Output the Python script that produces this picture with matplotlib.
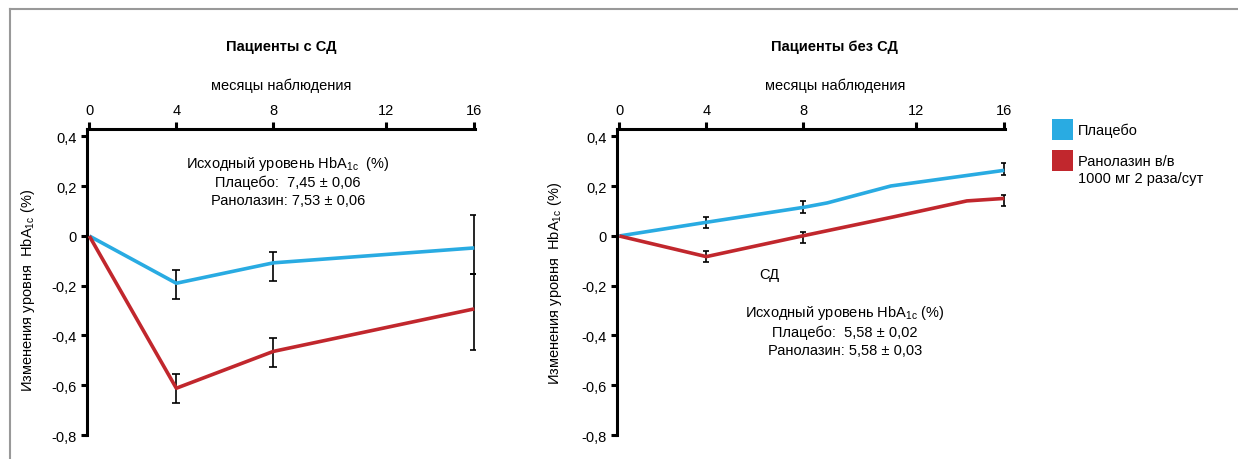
import numpy as np
import matplotlib
matplotlib.use('Agg')
import matplotlib.pyplot as plt
from matplotlib.patches import Rectangle
from matplotlib.lines import Line2D

plt.rcParams['font.family'] = ['Liberation Sans', 'DejaVu Sans']
plt.rcParams['mathtext.fontset'] = 'custom'
plt.rcParams['mathtext.rm'] = 'Liberation Sans'
plt.rcParams['mathtext.it'] = 'Liberation Sans:italic'
plt.rcParams['mathtext.bf'] = 'Liberation Sans:bold'

# ---- data ----
month_ticks = [0, 4, 8, 12, 16]
y_ticks = [0.4, 0.2, 0, -0.2, -0.4, -0.6, -0.8]
y_tick_labels = ['0,4', '0,2', '0', '-0,2', '-0,4', '-0,6', '-0,8']
series_names = ['Плацебо', 'Ранолазин в/в\n1000 мг 2 раза/сут']

# patients with diabetes
dm_months = [0, 4, 8, 16]
dm_placebo = [0, -0.19, -0.108, -0.048]
dm_ranolazine = [0, -0.612, -0.464, -0.293]
dm_err_months = [4, 8, 16]
dm_placebo_lo = [-0.252, -0.18, -0.152]
dm_placebo_hi = [-0.136, -0.064, 0.085]
dm_ranolazine_lo = [-0.672, -0.528, -0.46]
dm_ranolazine_hi = [-0.556, -0.412, -0.152]

# patients without diabetes
nodm_placebo_months = [0, 4, 8, 8.85, 11.1, 16]
nodm_placebo = [0, 0.055, 0.115, 0.133, 0.201, 0.264]
nodm_ranolazine_months = [0, 4, 8, 11.2, 14.3, 16]
nodm_ranolazine = [0, -0.083, 0.001, 0.077, 0.141, 0.151]
nodm_err_months = [4, 8, 16]
nodm_placebo_lo = [0.032, 0.092, 0.244]
nodm_placebo_hi = [0.076, 0.14, 0.292]
nodm_ranolazine_lo = [-0.104, -0.028, 0.12]
nodm_ranolazine_hi = [-0.06, 0.016, 0.164]

blue = '#29abe2'
red = '#c1272d'

# the month axis in the original is drawn unevenly
months_ext = [-4, 0, 4, 8, 12, 16, 20]
px_ext = [-87, 0, 87, 184, 297, 385, 473]


def fwd(x):
    return np.interp(x, months_ext, px_ext)


def inv(p):
    return np.interp(p, px_ext, months_ext)


fig = plt.figure(figsize=(12.38, 4.6), dpi=100)
ax1 = fig.add_axes([0.07003, 0.05217, 0.31398, 0.6652])
ax2 = fig.add_axes([0.49814, 0.05217, 0.31398, 0.6652])


def style_axis(ax):
    ax.set_xscale('function', functions=(fwd, inv))
    ax.set_xlim(-0.12, 16.05)
    ax.set_ylim(-0.8, 0.43)
    for s in ['right', 'bottom']:
        ax.spines[s].set_visible(False)
    for s in ['top', 'left']:
        ax.spines[s].set_linewidth(2.2)
    ax.xaxis.tick_top()
    ax.set_xticks(month_ticks)
    ax.set_xticklabels([str(m) for m in month_ticks])
    ax.minorticks_off()
    ax.set_yticks(y_ticks)
    ax.set_yticklabels(y_tick_labels)
    ax.tick_params(axis='x', direction='out', length=5, width=2.2, pad=4, labelsize=10.5)
    ax.tick_params(axis='y', direction='out', length=4.5, width=2.2, pad=3, labelsize=10.5)
    ax.text(0.5, 1.144, 'месяцы наблюдения', transform=ax.transAxes,
            ha='center', va='center', fontsize=10.5)


def draw_errors(ax, xs, lo, hi, cap):
    lo = np.array(lo)
    hi = np.array(hi)
    mid = (lo + hi) / 2
    ax.errorbar(xs, mid, yerr=[mid - lo, hi - mid], fmt='none', ecolor='black',
                elinewidth=1.2, capsize=cap, capthick=1.2, zorder=2)


# left panel
style_axis(ax1)
ax1.plot(dm_months, dm_placebo, color=blue, lw=2.6, zorder=3, solid_capstyle='butt')
ax1.plot(dm_months, dm_ranolazine, color=red, lw=2.6, zorder=3, solid_capstyle='butt')
draw_errors(ax1, dm_err_months, dm_placebo_lo, dm_placebo_hi, 3)
draw_errors(ax1, dm_err_months, dm_ranolazine_lo, dm_ranolazine_hi, 3)
ax1.text(0.5, 1.271, 'Пациенты с СД', transform=ax1.transAxes,
         ha='center', va='center', fontsize=10.5, fontweight='bold')
ax1.text(0.518, 0.833,
         'Исходный уровень HbA$_{\\mathrm{1c}}$  (%)\nПлацебо:  7,45 ± 0,06\nРанолазин: 7,53 ± 0,06',
         transform=ax1.transAxes, ha='center', va='center', fontsize=10.5,
         linespacing=1.3, multialignment='center')
ax1.text(-0.15, 0.477, 'Изменения уровня  HbA$_{\\mathrm{1c}}$ (%)', transform=ax1.transAxes,
         ha='center', va='center', rotation=90, fontsize=10.5)

# right panel
style_axis(ax2)
ax2.plot(nodm_placebo_months, nodm_placebo, color=blue, lw=2.6, zorder=3, solid_capstyle='butt')
ax2.plot(nodm_ranolazine_months, nodm_ranolazine, color=red, lw=2.6, zorder=3, solid_capstyle='butt')
draw_errors(ax2, nodm_err_months, nodm_placebo_lo, nodm_placebo_hi, 2.4)
draw_errors(ax2, nodm_err_months, nodm_ranolazine_lo, nodm_ranolazine_hi, 2.4)
ax2.texts[0].set_x(0.561)
ax2.text(0.561, 1.271, 'Пациенты без СД', transform=ax2.transAxes,
         ha='center', va='center', fontsize=10.5, fontweight='bold')
ax2.text(0.393, 0.526, 'СД', transform=ax2.transAxes, ha='center', va='center', fontsize=10.5)
ax2.text(0.587, 0.343,
         'Исходный уровень HbA$_{\\mathrm{1c}}$ (%)\nПлацебо:  5,58 ± 0,02\nРанолазин: 5,58 ± 0,03',
         transform=ax2.transAxes, ha='center', va='center', fontsize=10.5,
         linespacing=1.3, multialignment='center')
ax2.text(-0.16, 0.5, 'Изменения уровня  HbA$_{\\mathrm{1c}}$ (%)', transform=ax2.transAxes,
         ha='center', va='center', rotation=90, fontsize=10.5)

# legend (drawn by hand, squares aligned with the first text line)
W, H = 1238, 460
for i, (name, col) in enumerate(zip(series_names, [blue, red])):
    top = 120 + i * 31
    fig.patches.append(Rectangle((1052 / W, 1 - (top + 21) / H), 21 / W, 21 / H,
                                 transform=fig.transFigure, color=col, lw=0))
    fig.text(1078 / W, 1 - (top + 4) / H, name, ha='left', va='top',
             fontsize=10.5, linespacing=1.3)

# grey frame of the original picture
fig.add_artist(Line2D([10 / W, 1], [1 - 10 / H, 1 - 10 / H], color='#999999', lw=1.5))
fig.add_artist(Line2D([10 / W, 10 / W], [0, 1 - 10 / H], color='#999999', lw=1.5))

fig.savefig('out.png', dpi=100)
